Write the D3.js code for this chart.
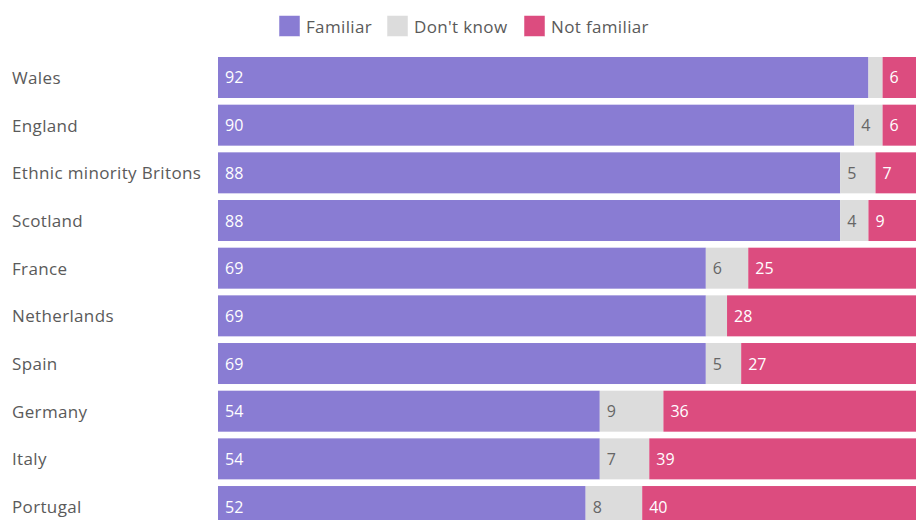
<!DOCTYPE html>
<html><head><meta charset="utf-8">
<script src="https://cdn.jsdelivr.net/npm/d3@7"></script>
<style>
html,body{margin:0;padding:0;background:#fff;overflow:hidden;}
svg{display:block;font-family:"Open Sans",Lato,sans-serif;}
</style></head>
<body>
<svg id="chart" width="916" height="520"></svg>
<script>
const categories = ["Wales","England","Ethnic minority Britons","Scotland","France","Netherlands","Spain","Germany","Italy","Portugal"];
const familiar    = [92,90,88,88,69,69,69,54,54,52];
const dontKnow    = [2,4,5,4,6,3,5,9,7,8];
const notFamiliar = [6,6,7,9,25,28,27,36,39,40];
const seriesNames = ["Familiar","Don't know","Not familiar"];
const seriesColors = ["#897cd3","#dcdcdc","#dc4c7f"];
const labelColors = ["#ffffff","#666666","#ffffff"];

const svg = d3.select("#chart");
const left = 218, right = 925;
const step = 47.67, pad = 0.14;

const rows = categories.map((c,i)=>({cat:c, "Familiar":familiar[i], "Don't know":dontKnow[i], "Not familiar":notFamiliar[i]}));
const stack = d3.stack().keys(seriesNames)(rows);

const x = d3.scaleLinear().domain([0,100]).range([left,right]);
const y = d3.scaleBand().domain(categories)
  .range([57, 57 + step*(categories.length - pad)]).paddingInner(pad).paddingOuter(0);

// category labels
svg.append("g").selectAll("text").data(categories).join("text")
  .attr("x",12).attr("y",d=>y(d)+y.bandwidth()/2)
  .attr("dominant-baseline","central")
  .attr("fill","#5a5a5a").attr("font-size",17).attr("letter-spacing",0.35)
  .text(d=>d);

// bars
const g = svg.append("g");
stack.forEach((s,si)=>{
  const gs = g.append("g");
  gs.selectAll("rect").data(s).join("rect")
    .attr("x",d=>x(d[0])).attr("y",d=>y(d.data.cat))
    .attr("width",d=>x(d[1])-x(d[0])).attr("height",y.bandwidth())
    .attr("fill",seriesColors[si]);
  gs.selectAll("text").data(s.filter(d=>(d[1]-d[0])>=4)).join("text")
    .attr("x",d=>x(d[0])+7).attr("y",d=>y(d.data.cat)+y.bandwidth()/2)
    .attr("dominant-baseline","central")
    .attr("fill",labelColors[si]).attr("font-size",16)
    .text(d=>d.data[seriesNames[si]]);
});

// legend
const legX = [279,387,524];
const lg = svg.append("g");
seriesNames.forEach((n,i)=>{
  lg.append("rect").attr("x",legX[i]).attr("y",15.5).attr("width",21).attr("height",21)
    .attr("fill",seriesColors[i]).attr("stroke","#fff").attr("stroke-width",0.5);
  lg.append("text").attr("x",legX[i]+27).attr("y",26).attr("dominant-baseline","central")
    .attr("fill","#5a5a5a").attr("font-size",17).attr("letter-spacing",0.35).text(n);
});
</script>
</body></html>
